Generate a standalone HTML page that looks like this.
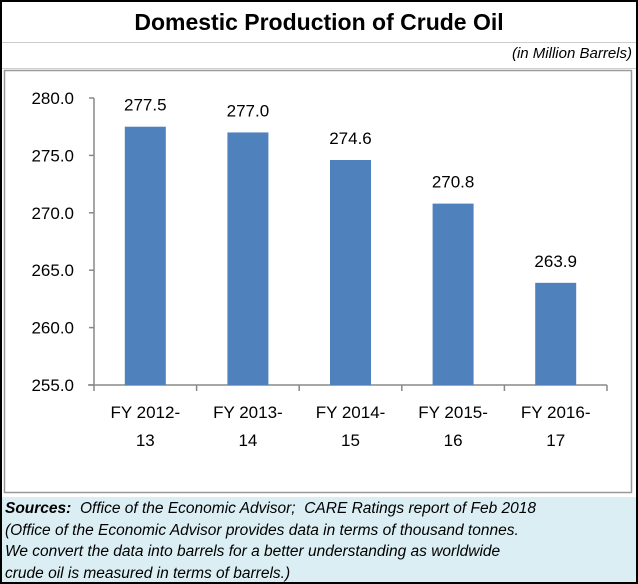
<!DOCTYPE html>
<html><head><meta charset="utf-8"><style>
body{margin:0;width:638px;height:584px;overflow:hidden;background:#fff;font-family:"Liberation Sans",sans-serif;}
#frame{position:absolute;left:0;top:0;width:634px;height:580px;border:2px solid #000;}
#title{position:absolute;left:0;top:0;width:634px;height:40px;text-align:center;font-weight:bold;font-size:23px;line-height:40px;border-bottom:1px solid #ccc;}
#unit{position:absolute;right:4px;top:43px;font-style:italic;font-size:15px;}
#footer{position:absolute;left:0;top:495px;width:634px;height:85px;background:#dbeef3;font-style:italic;font-size:15.5px;line-height:21.5px;padding:1px 3px;box-sizing:border-box;white-space:nowrap;}
</style></head><body>
<div id="frame">
<div id="title">Domestic Production of Crude Oil</div>
<div style="position:absolute;left:0;top:66px;width:634px;border-top:1px solid #ccc"></div>
<div id="unit">(in Million Barrels)</div>
<div id="footer"><b>Sources:</b>&nbsp; Office of the Economic Advisor;&nbsp; CARE Ratings report of Feb 2018<br>(Office of the Economic Advisor provides data in terms of thousand tonnes.<br>We convert the data into barrels for a better understanding as worldwide<br>crude oil is measured in terms of barrels.)</div>
</div>
<svg id="chart" width="638" height="584" style="position:absolute;left:0;top:0">
<rect x="4.5" y="70.5" width="627" height="422" fill="none" stroke="#999" stroke-width="1.5"/>
</svg>
<script>
const categories=[["FY 2012-","13"],["FY 2013-","14"],["FY 2014-","15"],["FY 2015-","16"],["FY 2016-","17"]];
const values=[277.5,277.0,274.6,270.8,263.9];
const ticks=[255,260,265,270,275,280];
const svg=document.getElementById('chart');const NS='http://www.w3.org/2000/svg';
const x0=94,x1=607,yMin=255,yMax=280,py0=385,py1=98;
const y=v=>py0-(v-yMin)/(yMax-yMin)*(py0-py1);
const bw=(x1-x0)/categories.length;
function mk(t,a){const e=document.createElementNS(NS,t);for(const k in a)e.setAttribute(k,a[k]);svg.appendChild(e);return e;}
let ax=mk('line',{x1:x0,y1:py1,x2:x0,y2:py0,stroke:'#888','stroke-width':1.5});


let xa=mk('line',{x1:x0-6,y1:py0,x2:x1,y2:py0,stroke:'#888','stroke-width':1.5});


ticks.forEach(t=>{
 const tk=mk('line',{x1:x0-5,y1:y(t),x2:x0,y2:y(t),stroke:'#888','stroke-width':1.5});
 
 
 const l=mk('text',{x:74,y:y(t)+6,'text-anchor':'end','font-size':17});
 l.textContent=t.toFixed(1);
 
 
});
for(let i=0;i<=categories.length;i++){
 const tk=mk('line',{x1:x0+i*bw,y1:py0,x2:x0+i*bw,y2:py0+6,stroke:'#888','stroke-width':1.5});
 
 
}
categories.forEach((c,i)=>{
 const cx=x0+bw*(i+0.5);
 const b=mk('rect',{x:cx-20.5,y:y(values[i]),width:41,height:py0-y(values[i]),fill:'#4f81bd'});
 
 
 const v=mk('text',{x:cx,y:y(values[i])-16,'text-anchor':'middle','font-size':17});
 v.textContent=values[i].toFixed(1);
 
 
 c.forEach((s,j)=>{
  const l=mk('text',{x:cx,y:418+j*28,'text-anchor':'middle','font-size':17});
  l.textContent=s;
  
  
 });
});
</script>
</body></html>
